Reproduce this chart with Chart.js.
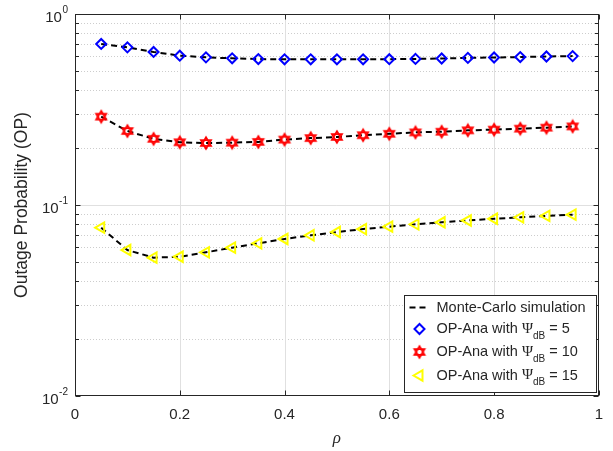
<!DOCTYPE html>
<html>
<head>
<meta charset="utf-8">
<script src="https://cdn.jsdelivr.net/npm/chart.js@4.4.1/dist/chart.umd.min.js"></script>
<style>
  html, body { margin: 0; padding: 0; background: #fff; }
  #wrap { width: 613px; height: 451px; }
</style>
</head>
<body>
<div id="wrap"><canvas id="op"></canvas></div>
<script>
// values
const rho = [0.05, 0.10, 0.15, 0.20, 0.25, 0.30, 0.35, 0.40, 0.45, 0.50,
             0.55, 0.60, 0.65, 0.70, 0.75, 0.80, 0.85, 0.90, 0.95];
const opPsi5 = [0.697, 0.669, 0.633, 0.605, 0.593, 0.586, 0.581, 0.579, 0.579, 0.579,
                0.579, 0.580, 0.582, 0.585, 0.589, 0.592, 0.595, 0.599, 0.602];
const opPsi10 = [0.290, 0.244, 0.222, 0.213, 0.211, 0.212, 0.214, 0.220, 0.224, 0.227,
                 0.232, 0.236, 0.240, 0.242, 0.246, 0.248, 0.251, 0.254, 0.258];
const opPsi15 = [0.0761, 0.0581, 0.0530, 0.0536, 0.0565, 0.0598, 0.0630, 0.0664, 0.0694, 0.0722,
                 0.0748, 0.0770, 0.0792, 0.0812, 0.0830, 0.0847, 0.0862, 0.0877, 0.0890];
const psiValues = ['5', '10', '15'];
const xTicks = [0, 0.2, 0.4, 0.6, 0.8, 1];
const yDecades = [0.01, 0.1, 1];
const yDecadeExp = ['-2', '-1', '0'];

const SANS = "'Liberation Sans', Arial, Helvetica, sans-serif";
const SERIF = "'Liberation Serif', 'Times New Roman', serif";
const INK = '#262626';

const pts = ys => rho.map((x, i) => ({ x: x, y: ys[i] }));

// MATLAB style hexagram marker
function hexagram(color) {
  const c = document.createElement('canvas');
  c.width = c.height = 16;
  const g = c.getContext('2d');
  g.strokeStyle = color;
  g.lineWidth = 1.8;
  for (const start of [-90, 90]) {
    g.beginPath();
    for (let k = 0; k < 3; k++) {
      const a = (start + k * 120) * Math.PI / 180;
      const px = 8 + 5.8 * Math.cos(a), py = 8 + 5.8 * Math.sin(a);
      if (k) g.lineTo(px, py); else g.moveTo(px, py);
    }
    g.closePath();
    g.stroke();
  }
  return c;
}

const mcLine = {
  showLine: true, borderColor: '#000', borderWidth: 2, borderDash: [6, 4],
  pointRadius: 0, tension: 0, fill: false, order: 1
};
const markers = [
  { pointStyle: 'rectRot', pointRadius: 5, pointRotation: 0, pointBorderColor: '#0000ff' },
  { pointStyle: hexagram('#ff0000'), pointRadius: 6, pointRotation: 0, pointBorderColor: '#ff0000' },
  { pointStyle: 'triangle', pointRadius: 6, pointRotation: -90, pointBorderColor: '#ffff00' }
];
const series = [opPsi5, opPsi10, opPsi15];

const datasets = [];
series.forEach(s => datasets.push(Object.assign({ label: 'Monte-Carlo simulation', data: pts(s) }, mcLine)));
series.forEach((s, i) => datasets.push(Object.assign({
  label: 'OP-Ana with Ψ', data: pts(s), showLine: false,
  pointBackgroundColor: 'rgba(0,0,0,0)', pointBorderWidth: 2, order: 0
}, markers[i])));

// grid, box and tick marks in MATLAB style
const axesBox = {
  id: 'axesBox',
  beforeDatasetsDraw(chart) {
    const { ctx, chartArea: a, scales: { x, y } } = chart;
    ctx.save();
    ctx.lineWidth = 1;
    // minor dotted y grid
    ctx.strokeStyle = '#cdcdcd';
    ctx.setLineDash([1, 2]);
    for (const d of [0.01, 0.1]) {
      for (let k = 2; k <= 9; k++) {
        const py = Math.round(y.getPixelForValue(d * k)) + 0.5;
        ctx.beginPath(); ctx.moveTo(a.left, py); ctx.lineTo(a.right, py); ctx.stroke();
      }
    }
    ctx.setLineDash([]);
    // major grid
    ctx.strokeStyle = '#e0e0e0';
    xTicks.slice(1, -1).forEach(v => {
      const px = Math.round(x.getPixelForValue(v)) + 0.5;
      ctx.beginPath(); ctx.moveTo(px, a.top); ctx.lineTo(px, a.bottom); ctx.stroke();
    });
    yDecades.slice(1, -1).forEach(v => {
      const py = Math.round(y.getPixelForValue(v)) + 0.5;
      ctx.beginPath(); ctx.moveTo(a.left, py); ctx.lineTo(a.right, py); ctx.stroke();
    });
    // box
    ctx.strokeStyle = INK;
    const L = Math.round(a.left) + 0.5, R = Math.round(a.right) - 0.5;
    const T = Math.round(a.top) + 0.5, B = Math.round(a.bottom) - 0.5;
    ctx.strokeRect(L, T, R - L, B - T);
    // x ticks (bottom and top, pointing in)
    ctx.beginPath();
    xTicks.forEach(v => {
      const px = Math.round(x.getPixelForValue(v)) + 0.5;
      ctx.moveTo(px, B); ctx.lineTo(px, B - 5);
      ctx.moveTo(px, T); ctx.lineTo(px, T + 5);
    });
    // y ticks, major and minor, left and right
    for (const d of [0.01, 0.1, 1]) {
      for (let k = 1; k <= (d === 1 ? 1 : 9); k++) {
        const py = Math.round(y.getPixelForValue(d * k)) + 0.5;
        const len = k === 1 ? 5 : 3.5;
        ctx.moveTo(L, py); ctx.lineTo(L + len, py);
        ctx.moveTo(R, py); ctx.lineTo(R - len, py);
      }
    }
    ctx.stroke();
    ctx.restore();
  },
  afterDraw(chart) {
    const { ctx, chartArea: a, scales: { y } } = chart;
    ctx.save();
    ctx.fillStyle = INK;
    // decade labels 10^n
    yDecades.forEach((v, i) => {
      const py = y.getPixelForValue(v);
      ctx.font = '10px ' + SANS;
      ctx.textAlign = 'right';
      ctx.textBaseline = 'alphabetic';
      const right = a.left - 7;
      const ew = ctx.measureText(yDecadeExp[i]).width;
      ctx.fillText(yDecadeExp[i], right, py - 1);
      ctx.font = '15px ' + SANS;
      ctx.textBaseline = 'middle';
      ctx.fillText('10', right - ew - 0.5, py + 4);
    });

    // legend
    const bw = 192, bh = 97;
    const bx = Math.round(a.right - 3 - bw) + 0.5, by = Math.round(a.bottom - 4 - bh) + 0.5;
    ctx.fillStyle = '#fff';
    ctx.fillRect(bx, by, bw, bh);
    ctx.strokeStyle = INK;
    ctx.lineWidth = 1;
    ctx.strokeRect(bx, by, bw, bh);
    const rows = [by + 12, by + 33.5, by + 56.5, by + 80];
    const mx = bx + 15, tx = bx + 32;
    // row 0: dashed line sample
    const mc = chart.data.datasets[0];
    ctx.strokeStyle = mc.borderColor;
    ctx.lineWidth = mc.borderWidth;
    ctx.setLineDash(mc.borderDash);
    ctx.beginPath(); ctx.moveTo(bx + 5, rows[0]); ctx.lineTo(bx + 24, rows[0]); ctx.stroke();
    ctx.setLineDash([]);
    ctx.fillStyle = INK;
    ctx.font = '14.5px ' + SANS;
    ctx.textAlign = 'left';
    ctx.textBaseline = 'middle';
    ctx.fillText(mc.label, tx, rows[0]);
    // rows 1..3: markers
    for (let i = 0; i < 3; i++) {
      const ds = chart.data.datasets[3 + i];
      const ry = rows[i + 1];
      ctx.strokeStyle = ds.pointBorderColor;
      ctx.fillStyle = 'rgba(0,0,0,0)';
      ctx.lineWidth = ds.pointBorderWidth;
      Chart.helpers.drawPoint(ctx, {
        pointStyle: ds.pointStyle, rotation: ds.pointRotation,
        radius: ds.pointRadius, borderWidth: ds.pointBorderWidth
      }, mx, ry);
      ctx.fillStyle = INK;
      ctx.font = '14.5px ' + SANS;
      const head = 'OP-Ana with ';
      ctx.fillText(head, tx, ry);
      let cx = tx + ctx.measureText(head).width;
      ctx.font = '15px ' + SERIF;
      ctx.fillText('Ψ', cx, ry);
      cx += ctx.measureText('Ψ').width;
      ctx.font = '10px ' + SANS;
      ctx.fillText('dB', cx, ry + 7);
      cx += ctx.measureText('dB').width;
      ctx.font = '14.5px ' + SANS;
      ctx.fillText(' = ' + psiValues[i], cx, ry);
    }
    ctx.restore();
  }
};

new Chart(document.getElementById('op'), {
  type: 'line',
  data: { datasets: datasets },
  plugins: [axesBox],
  options: {
    responsive: true,
    maintainAspectRatio: false,
    animation: false,
    layout: { padding: { top: 14, right: 12, left: 0, bottom: 0 } },
    plugins: { legend: { display: false }, tooltip: { enabled: false } },
    scales: {
      x: {
        type: 'linear', min: 0, max: 1,
        grid: { display: false, drawTicks: false },
        border: { display: false },
        afterBuildTicks: s => { s.ticks = xTicks.map(v => ({ value: v })); },
        ticks: {
          font: { family: SANS, size: 15 }, color: INK, padding: 10,
          maxRotation: 0, autoSkip: false, callback: v => String(v)
        },
        title: {
          display: true, text: 'ρ', color: INK,
          font: { family: SERIF, size: 17, style: 'italic' },
          padding: { top: 0, bottom: 2 }
        },
        afterFit: s => { s.height = 55; }
      },
      y: {
        type: 'logarithmic', min: 0.01, max: 1,
        grid: { display: false, drawTicks: false },
        border: { display: false },
        ticks: { display: false },
        title: {
          display: true, text: 'Outage Probability (OP)', color: INK,
          font: { family: SANS, size: 17.5 },
          padding: { top: 12, bottom: 0 }
        },
        afterFit: s => { s.width = 75; }
      }
    }
  }
});
</script>
</body>
</html>
